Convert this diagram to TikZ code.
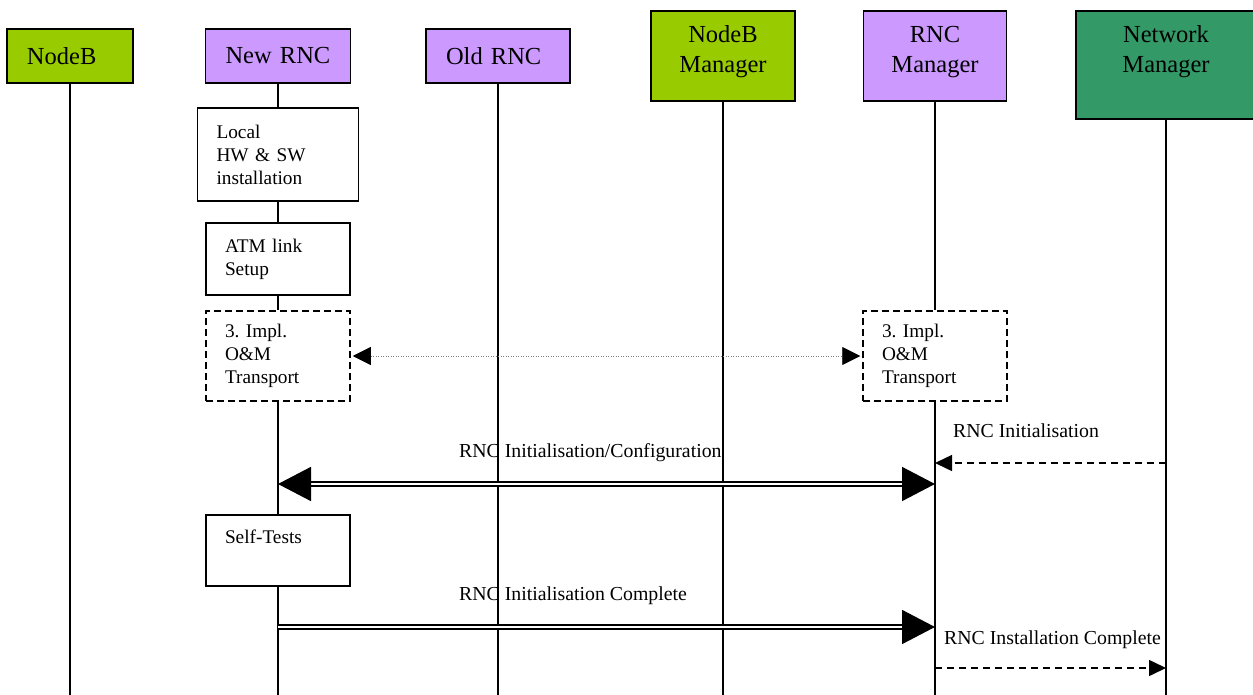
\documentclass[tikz,border=0pt]{standalone}
\usepackage{fontspec}
\setmainfont{Liberation Serif}
\usetikzlibrary{arrows.meta}
\frenchspacing
\newcommand{\hdrfont}{\fontsize{24.5}{30}\selectfont}
\newcommand{\msgfont}{\fontsize{19.3}{23}\selectfont}
\newcommand{\lblfont}{\fontsize{19.8}{23}\selectfont}
\definecolor{bgreen}{HTML}{99CC00}
\definecolor{rpurple}{HTML}{CC99FF}
\definecolor{ngreen}{HTML}{339966}
\tikzset{
	hdr/.style={draw, line width=1.5pt, font=\hdrfont, inner xsep=20pt, inner ysep=0pt},
	proc/.style={draw, fill=white, line width=1.5pt, font=\msgfont, align=left, inner xsep=19pt, inner ysep=0pt, text width=106pt},
	impl/.style={proc, dash pattern=on 7pt off 4pt},
	life/.style={line width=1.3pt},
	lbl/.style={font=\lblfont, inner sep=0pt, anchor=base west},
	msg/.style={line width=1.6pt, double=white, double distance=2.4pt, >={Triangle[length=33pt, width=34pt]}},
	note/.style={line width=1.5pt, dash pattern=on 7pt off 5pt, >={Triangle[length=17pt, width=16pt]}},
	omlink/.style={gray, line width=0.8pt, dash pattern=on 1pt off 1.5pt, shorten <=2pt, shorten >=2pt, >={Triangle[length=18pt, width=18pt, color=black]}}
}
\begin{document}
\begin{tikzpicture}[x=1pt, y=-1pt]
	\useasboundingbox (0,0) rectangle (1253,695);
	% headers
	\node[hdr, fill=bgreen, align=left, text width=86pt, minimum height=54pt] (nodeb) at (70,56) {NodeB};
	\node[hdr, fill=rpurple, align=left, text width=105pt, minimum height=54pt] (newrnc) at (278,56) {New RNC};
	\node[hdr, fill=rpurple, align=left, text width=104pt, minimum height=54pt] (oldrnc) at (498,56) {Old RNC};
	\node[hdr, fill=bgreen, align=center, text width=104pt, text depth=43pt, minimum height=90pt] (nbmgr) at (723,56) {NodeB\\Manager};
	\node[hdr, fill=rpurple, align=center, text width=103pt, text depth=43pt, minimum height=90pt] (rncmgr) at (935,56) {RNC\\Manager};
	\node[hdr, fill=ngreen, align=center, text width=140pt, text depth=61pt, minimum height=108pt] (netmgr) at (1166,65) {Network\\Manager};
	% New RNC steps
	\node[proc, text width=123pt, minimum height=93pt] (local) at (278,154.5) {Local\\HW \& SW\\installation};
	\node[proc, minimum height=72pt] (atm) at (278,259) {ATM link\\Setup};
	\node[impl, minimum height=90pt] (omnew) at (278,356) {3. Impl.\\O\&M\\Transport};
	\node[proc, text depth=28pt, minimum height=71pt] (selftest) at (278,550.5) {Self-Tests};
	\node[impl, minimum height=90pt] (omrnc) at (935,356) {3. Impl.\\O\&M\\Transport};
	% lifelines
	\foreach \n in {nodeb,newrnc,oldrnc,nbmgr,rncmgr,netmgr}
		\coordinate (\n-end) at (\n |- 0,695);
	\foreach \n in {nodeb,oldrnc,nbmgr,netmgr}
		\draw[life] (\n) -- (\n-end);
	\draw[life] (newrnc) -- (local) -- (atm) -- (omnew) -- (selftest) -- (newrnc-end);
	\draw[life] (rncmgr) -- (omrnc) -- (rncmgr-end);
	% messages
	\coordinate (cfgA) at (newrnc |- 0,484);
	\coordinate (cfgB) at (rncmgr |- 0,484);
	\coordinate (initA) at (netmgr |- 0,463);
	\coordinate (initB) at (rncmgr |- 0,463);
	\coordinate (compA) at (newrnc |- 0,627);
	\coordinate (compB) at (rncmgr |- 0,627);
	\coordinate (instA) at (rncmgr |- 0,668);
	\coordinate (instB) at (netmgr |- 0,668);
	\draw[omlink, <->] (omnew) -- (omrnc);
	\draw[msg, <->] (cfgA) -- (cfgB);
	\draw[note, ->] (initA) -- (initB);
	\draw[msg, ->] (compA) -- (compB);
	\draw[note, ->] (instA) -- (instB);
	\node[lbl] (cfglbl) at (459,457) {RNC Initialisation/Configuration};
	\node[lbl] (initlbl) at (953,437) {RNC Initialisation};
	\node[lbl] (complbl) at (459,600) {RNC Initialisation Complete};
	\node[lbl] (instlbl) at (944,644) {RNC Installation Complete};
\end{tikzpicture}
\end{document}
